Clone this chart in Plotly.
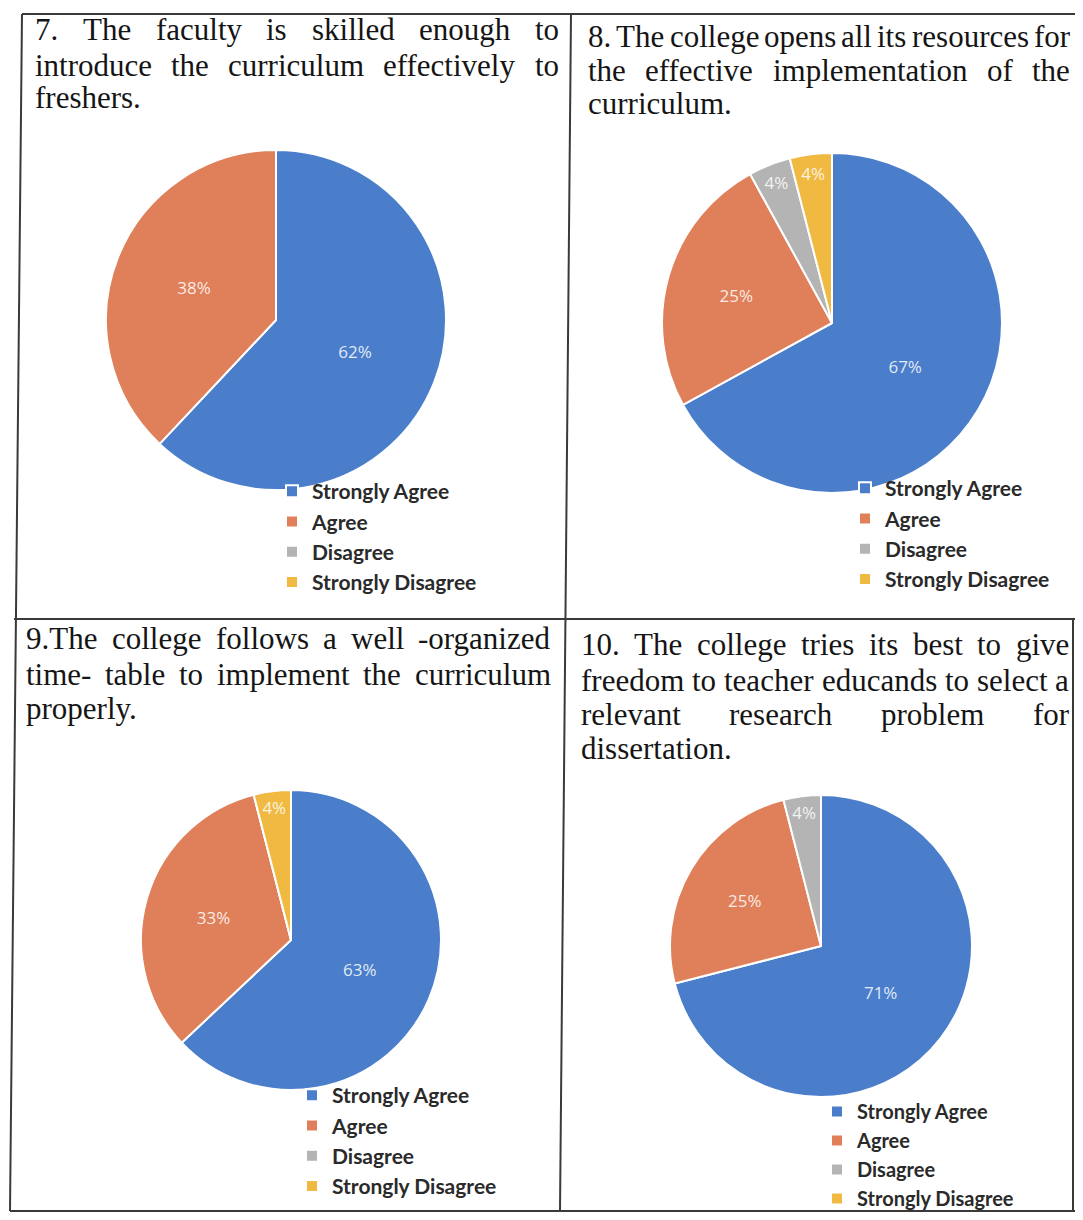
import plotly.graph_objects as go

W, H = 1083, 1220
OFF = 8                      # page body margin of the html page
FW, FH = W - 2 * OFF, H - 2 * OFF

# ---------------- data ----------------
categories = ["Strongly Agree", "Agree", "Disagree", "Strongly Disagree"]
q7_values = [62, 38, 0, 0]
q8_values = [67, 25, 4, 4]
q9_values = [63, 33, 0, 4]
q10_values = [71, 25, 4, 0]

q7_title = ["7. The faculty is skilled enough to",
            "introduce the curriculum effectively to",
            "freshers."]
q8_title = ["8. The college opens all its resources for",
            "the effective implementation of the",
            "curriculum."]
q9_title = ["9.The college follows a well -organized",
            "time- table to implement the curriculum",
            "properly."]
q10_title = ["10. The college tries its best to give",
             "freedom to teacher educands to select a",
             "relevant research problem for",
             "dissertation."]

colors = ["#4a7ecb", "#e0805a", "#b4b4b4", "#f0b942"]

# ---------------- helpers ----------------
def fx(px):
    return (px - OFF) / FW

def fy(py):
    return 1 - (py - OFF) / FH

# Times-Roman advance widths (1/1000 em) for word placement
TW = {' ': 250, '.': 250, '-': 333, ',': 250}
for d in "0123456789":
    TW[d] = 500
TW.update(dict(A=722, B=667, C=667, D=722, E=611, F=556, G=722, H=722, I=333, J=389,
               K=722, L=611, M=889, N=722, O=722, P=556, Q=722, R=667, S=556, T=611,
               U=722, V=722, W=944, X=722, Y=722, Z=611))
TW.update(dict(a=444, b=500, c=444, d=500, e=444, f=333, g=500, h=500, i=278, j=278,
               k=500, l=278, m=778, n=500, o=500, p=500, q=500, r=333, s=389, t=278,
               u=500, v=500, w=722, x=500, y=500, z=444))

FS = 31
FONT_T = dict(family="Liberation Serif", size=FS, color="#151515")

def word_w(wd):
    return sum(TW.get(ch, 500) for ch in wd) * FS / 1000.0

annotations = []

def add_lines(lines, x0, x1, ys):
    for k, (line, yc) in enumerate(zip(lines, ys)):
        words = line.split(" ")
        last = (k == len(lines) - 1)
        if last or len(words) == 1:
            annotations.append(dict(x=fx(x0 - 3), y=fy(yc), xref="paper", yref="paper",
                                    text=line, showarrow=False, xanchor="left",
                                    yanchor="middle", font=FONT_T))
            continue
        widths = [word_w(wd) for wd in words]
        gap = (x1 - x0 - sum(widths)) / (len(words) - 1)
        xpos = x0
        for wd, ww in zip(words, widths):
            annotations.append(dict(x=fx(xpos - 3), y=fy(yc), xref="paper", yref="paper",
                                    text=wd, showarrow=False, xanchor="left",
                                    yanchor="middle", font=FONT_T))
            xpos += ww + gap

add_lines(q7_title, 36, 560, [30, 65, 98])
add_lines(q8_title, 589, 1071, [36, 71, 104])
add_lines(q9_title, 27, 552, [638, 674, 708])
add_lines(q10_title, 582, 1070, [644, 680, 714, 748])

# ---------------- pies ----------------
fig = go.Figure()

def add_pie(values, cx, cy, r, legend, group):
    fig.add_trace(go.Pie(
        labels=categories,
        values=values,
        text=[f"{v}%" if v > 0 else "" for v in values],
        textinfo="text",
        textposition="inside",
        insidetextorientation="horizontal",
        textfont=dict(family="Open Sans, sans-serif", size=17, color="rgba(255,255,255,0.85)"),
        marker=dict(colors=colors, line=dict(color="white", width=2)),
        sort=False,
        direction="clockwise",
        rotation=0,
        hoverinfo="skip",
        domain=dict(x=[fx(cx - r), fx(cx + r)], y=[fy(cy + r), fy(cy - r)]),
        legend=legend,
        legendgroup=group,
    ))

add_pie(q7_values, 276, 320, 170, "legend", "q7")
add_pie(q8_values, 832, 323, 170, "legend2", "q8")
add_pie(q9_values, 291, 940, 150, "legend3", "q9")
add_pie(q10_values, 821, 946, 151, "legend4", "q10")

def leg(tx, ty, size):
    return dict(x=fx(tx - 40), y=fy(ty - size), xanchor="left", yanchor="top",
                bgcolor="rgba(0,0,0,0)", itemwidth=30,
                font=dict(family="Lato, sans-serif", size=size, color="#2a2a2a", weight="bold"),
                itemclick=False, itemdoubleclick=False)

# ---------------- table borders ----------------
line_style = dict(color="#3a3a3a", width=2)
border_segments = [
    (22, 14, 1075, 14),
    (22, 14, 10, 1211),
    (571, 14, 560, 1211),
    (14, 619, 1075, 619),
    (10, 1211, 1075, 1211),
    (1073, 619, 1073, 1211),
]
shapes = [dict(type="line", xref="paper", yref="paper",
               x0=fx(a), y0=fy(b), x1=fx(c), y1=fy(d), line=line_style)
          for a, b, c, d in border_segments]

fig.update_layout(
    width=FW, height=FH,
    margin=dict(l=0, r=0, t=0, b=0, autoexpand=False),
    paper_bgcolor="white",
    plot_bgcolor="white",
    showlegend=True,
    legend=leg(312, 492, 21),
    legend2=leg(885, 489, 21),
    legend3=leg(332, 1096, 21),
    legend4=leg(857, 1112, 20),
    annotations=annotations,
    shapes=shapes,
)

fig.write_html("out.html")
